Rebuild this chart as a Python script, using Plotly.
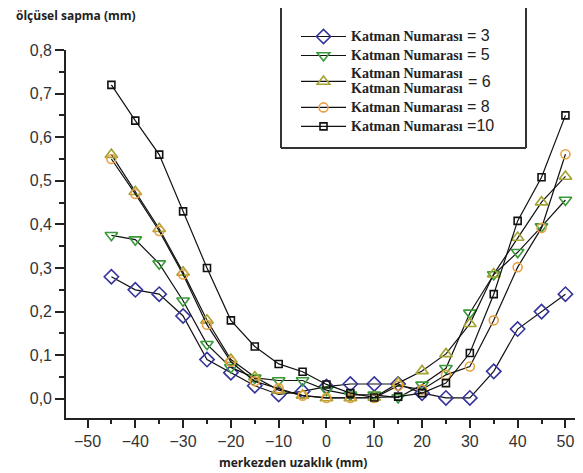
import plotly.graph_objects as go

# distance from centre (mm)
x_vals = [-45, -40, -35, -30, -25, -20, -15, -10, -5, 0, 5, 10, 15, 20, 25, 30, 35, 40, 45, 50]

# dimensional deviation (mm) per layer count
katman_3 = [0.28, 0.25, 0.24, 0.19, 0.09, 0.06, 0.03, 0.01, 0.017, 0.028, 0.034, 0.034, 0.034, 0.013, 0.002, 0.002, 0.063, 0.16, 0.20, 0.24]
katman_5 = [0.375, 0.365, 0.31, 0.225, 0.125, 0.072, 0.048, 0.042, 0.042, 0.02, 0.009, 0.009, 0.003, 0.032, 0.07, 0.197, 0.285, 0.336, 0.395, 0.456]
katman_6 = [0.56, 0.475, 0.39, 0.29, 0.18, 0.09, 0.05, 0.02, 0.008, 0.002, 0.002, 0.003, 0.036, 0.064, 0.103, 0.172, 0.286, 0.37, 0.451, 0.51]
katman_8 = [0.55, 0.47, 0.385, 0.285, 0.17, 0.085, 0.04, 0.024, 0.007, 0.002, 0.002, 0.002, 0.03, 0.021, 0.055, 0.074, 0.18, 0.302, 0.392, 0.561]
katman_10 = [0.72, 0.638, 0.56, 0.43, 0.30, 0.18, 0.12, 0.08, 0.062, 0.033, 0.013, 0.003, 0.005, 0.013, 0.036, 0.105, 0.24, 0.408, 0.508, 0.65]

layer_labels = ["3", "5", "6", "8", "10"]
x_tick_vals = [-50, -40, -30, -20, -10, 0, 10, 20, 30, 40, 50]

KB = "<span style=\"font-family:'Liberation Serif';font-size:14px;font-weight:bold\">Katman Numarası</span>"

def eq(txt):
    return "<span style=\"font-size:16px\">" + txt + "</span>"

series = [
    (katman_3, "diamond-open", 11, "#34349c", KB + eq(" = " + layer_labels[0])),
    (katman_5, "triangle-down-open", 11, "#3a9a3a", KB + eq(" = " + layer_labels[1])),
    (katman_6, "triangle-up-open", 11, "#a3a332", KB + "<br>" + KB),
    (katman_8, "circle-open", 9, "#e8a244", KB + eq(" = " + layer_labels[3])),
    (katman_10, "square-open", 7, "#111111", KB + eq(" =" + layer_labels[4])),
]

fig = go.Figure()
for vals, sym, size, col, name in series:
    fig.add_trace(go.Scatter(
        x=x_vals, y=vals, mode="lines+markers", name=name,
        line=dict(color="#111111", width=1.2),
        marker=dict(symbol=sym, size=size, color=col, line=dict(color=col, width=1.6)),
    ))

W, H = 583, 473
L, R, T, B = 66, 8, 50, 55
pw, ph = W - L - R, H - T - B

def px(xp):
    return (xp - L) / pw

def py(yp):
    return (H - B - yp) / ph

fig.update_layout(
    width=W, height=H,
    margin=dict(l=L, r=R, t=T, b=B),
    paper_bgcolor="white", plot_bgcolor="white",
    separators=",.",
    font=dict(family="Liberation Sans, Arial", color="#222"),
    showlegend=True,
    legend=dict(
        x=px(296), y=py(22), xanchor="left", yanchor="top",
        bgcolor="rgba(0,0,0,0)", borderwidth=0,
        font=dict(family="Liberation Sans, Arial", size=11.5, color="#222"),
        itemwidth=45, tracegroupgap=0,
    ),
    xaxis=dict(
        range=[-54.5, 52], tickmode="array", tickvals=x_tick_vals,
        ticks="outside", ticklen=8, tickwidth=1.5, tickcolor="#222",
        showline=True, linecolor="#222", linewidth=1.6,
        showgrid=False, zeroline=False, automargin=False,
        tickfont=dict(size=16, color="#333"),
        minor=dict(ticks="outside", ticklen=4, tickwidth=1.5, tickcolor="#222", dtick=5, tick0=0, showgrid=False),
    ),
    yaxis=dict(
        range=[-0.044, 0.8], tickmode="linear", tick0=0, dtick=0.1, tickformat=".1f",
        ticks="outside", ticklen=9, tickwidth=1.5, tickcolor="#222",
        showline=True, linecolor="#222", linewidth=1.6,
        showgrid=False, zeroline=False, automargin=False,
        tickfont=dict(size=16, color="#333"),
        minor=dict(ticks="outside", ticklen=5, tickwidth=1.5, tickcolor="#222", dtick=0.05, tick0=0, showgrid=False),
    ),
    shapes=[
        dict(type="line", xref="paper", yref="paper", x0=px(281), x1=px(281), y0=py(8), y1=py(148), line=dict(color="#333", width=2)),
        dict(type="line", xref="paper", yref="paper", x0=px(526), x1=px(526), y0=py(8), y1=py(148), line=dict(color="#333", width=2)),
        dict(type="line", xref="paper", yref="paper", x0=px(281), x1=px(526), y0=py(148), y1=py(148), line=dict(color="#333", width=2)),
    ],
    annotations=[
        dict(text="<b>ölçüsel sapma (mm)</b>", xref="paper", yref="paper", x=px(14), y=py(16),
             xanchor="left", yanchor="middle", showarrow=False,
             font=dict(family="Open Sans", size=12, color="#222")),
        dict(text="<b>merkezden uzaklık (mm)</b>", xref="paper", yref="paper", x=px(293), y=py(462),
             xanchor="center", yanchor="middle", showarrow=False,
             font=dict(family="Open Sans", size=12, color="#222")),
        dict(text="= " + layer_labels[2], xref="paper", yref="paper", x=px(466), y=py(81),
             xanchor="left", yanchor="middle", showarrow=False,
             font=dict(family="Liberation Sans, Arial", size=16, color="#222")),
    ],
)

fig.write_html("out.html", config={"displayModeBar": False},
               post_script="document.body.style.margin='0';document.body.style.padding='0';")
